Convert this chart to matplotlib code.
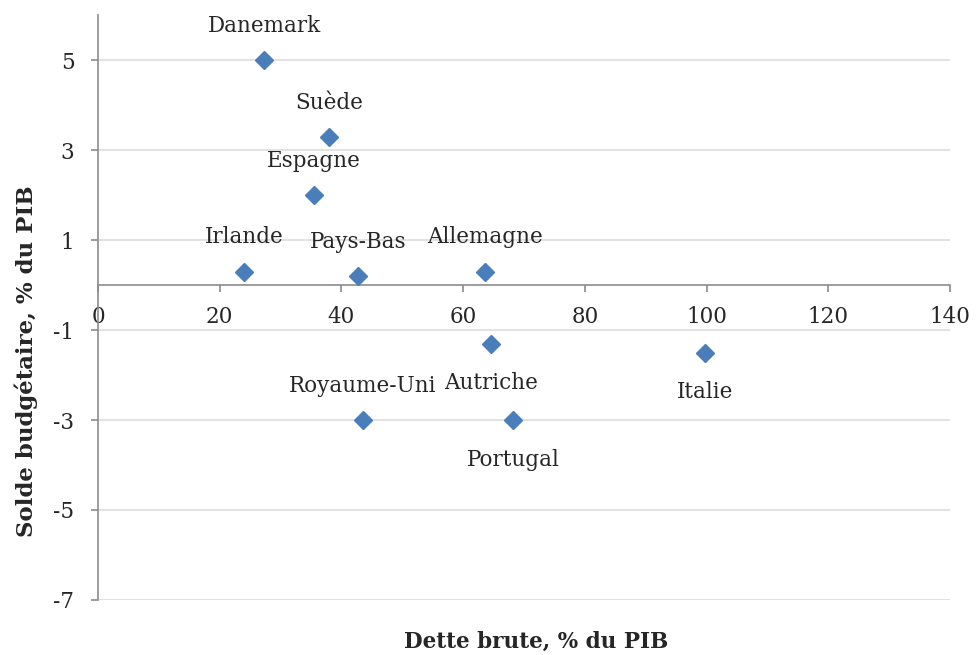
import matplotlib
matplotlib.use("Agg")
import matplotlib.pyplot as plt

# Gross debt vs budget balance by country (% of GDP)
countries = ["Danemark", "Suède", "Espagne", "Irlande", "Pays-Bas", "Allemagne",
             "Autriche", "Italie", "Royaume-Uni", "Portugal"]
dette = [27.3, 38.0, 35.5, 24.0, 42.7, 63.6, 64.6, 99.7, 43.5, 68.2]
solde = [5.0, 3.3, 2.0, 0.3, 0.2, 0.3, -1.3, -1.5, -3.0, -3.0]
label_side = ["above", "above", "above", "above", "above", "above",
              "below", "below", "above", "below"]

x_ticks = [0, 20, 40, 60, 80, 100, 120, 140]
y_ticks = [-7, -5, -3, -1, 1, 3, 5]

plt.rcParams["font.family"] = ["DejaVu Serif"]

fig = plt.figure(figsize=(9.76, 6.55), dpi=100)
ax = fig.add_axes([0.1004, 0.084, 0.873, 0.893])

blue = "#4A7EBB"
axis_gray = "#8C8C8C"
grid_gray = "#DDDDDD"
text_col = "#262626"

ax.set_xlim(0, 140)
ax.set_ylim(-7, 6)

for y in y_ticks:
    ax.axhline(y, color=grid_gray, lw=1.2, zorder=0)

ax.plot(dette, solde, linestyle="none", marker="D", ms=9.5,
        color=blue, markeredgecolor=blue, zorder=3, clip_on=False)

for name, x, y, side in zip(countries, dette, solde, label_side):
    dy = 24.5 if side == "above" else -28.5
    ax.annotate(name, (x, y), xytext=(0, dy), textcoords="offset points",
                ha="center", va="center", fontsize=15.5, color=text_col)

ax.spines["top"].set_visible(False)
ax.spines["right"].set_visible(False)
ax.spines["bottom"].set_position(("data", 0))
for s in ("left", "bottom"):
    ax.spines[s].set_color(axis_gray)
    ax.spines[s].set_linewidth(1.2)

ax.set_xticks(x_ticks)
ax.set_yticks(y_ticks)
ax.set_xticklabels([str(v) for v in x_ticks])
ax.set_yticklabels([str(v) for v in y_ticks])
ax.tick_params(axis="x", direction="out", length=5, width=1.2, color=axis_gray,
               labelsize=15.5, labelcolor=text_col, pad=10)
ax.tick_params(axis="y", direction="out", length=5, width=1.2, color=axis_gray,
               labelsize=15.5, labelcolor=text_col, pad=12)

fig.text(0.027, 0.448, "Solde budgétaire, % du PIB", rotation=90,
         ha="center", va="center", fontsize=16.5, fontweight="bold", color=text_col)
fig.text(0.549, 0.02, "Dette brute, % du PIB", ha="center", va="center",
         fontsize=15.5, fontweight="bold", color=text_col)

fig.savefig("out.png", dpi=100)
